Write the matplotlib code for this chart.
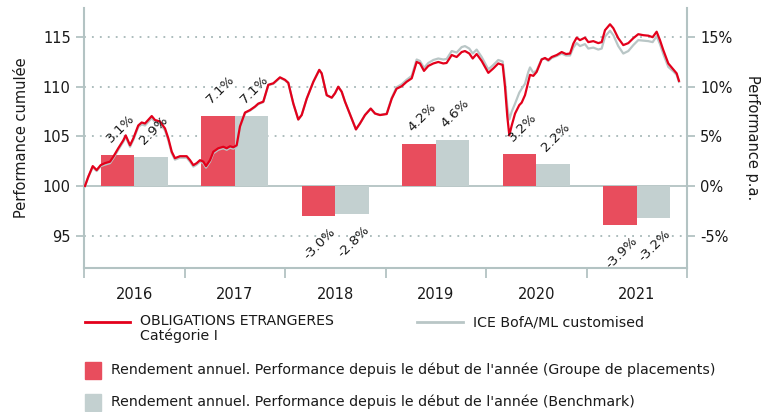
import matplotlib
matplotlib.use("Agg")
import matplotlib.pyplot as plt
from matplotlib.lines import Line2D
from matplotlib.patches import Rectangle
from matplotlib.ticker import FixedLocator, NullFormatter

plt.rcParams['font.family'] = ['DejaVu Sans']

# cumulative performance, decimal year -> index (start = 100)
dates = [2016.010, 2016.043, 2016.087, 2016.126, 2016.166, 2016.209, 2016.259, 2016.292,
         2016.341, 2016.391, 2016.415, 2016.458, 2016.491, 2016.540, 2016.574, 2016.607,
         2016.674, 2016.706, 2016.756, 2016.806, 2016.839, 2016.873, 2016.905, 2016.955,
         2017.022, 2017.055, 2017.088, 2017.121, 2017.154, 2017.187, 2017.214, 2017.254,
         2017.287, 2017.336, 2017.386, 2017.420, 2017.453, 2017.486, 2017.519, 2017.552,
         2017.602, 2017.652, 2017.701, 2017.734, 2017.784, 2017.834, 2017.884, 2017.950,
         2018.000, 2018.033, 2018.083, 2018.132, 2018.166, 2018.216, 2018.282, 2018.341,
         2018.365, 2018.415, 2018.465, 2018.498, 2018.530, 2018.564, 2018.597, 2018.630,
         2018.674, 2018.706, 2018.746, 2018.796, 2018.853, 2018.896, 2018.945, 2019.012,
         2019.062, 2019.110, 2019.161, 2019.210, 2019.261, 2019.310, 2019.343, 2019.383,
         2019.426, 2019.476, 2019.525, 2019.575, 2019.608, 2019.659, 2019.708, 2019.758,
         2019.791, 2019.834, 2019.868, 2019.907, 2019.957, 2020.023, 2020.073, 2020.122,
         2020.166, 2020.189, 2020.212, 2020.232, 2020.256, 2020.289, 2020.331, 2020.355,
         2020.388, 2020.421, 2020.438, 2020.471, 2020.504, 2020.554, 2020.587, 2020.620,
         2020.654, 2020.704, 2020.753, 2020.796, 2020.836, 2020.869, 2020.902, 2020.935,
         2020.985, 2021.018, 2021.068, 2021.117, 2021.151, 2021.184, 2021.234, 2021.267,
         2021.316, 2021.366, 2021.416, 2021.466, 2021.515, 2021.565, 2021.615, 2021.658,
         2021.698, 2021.731, 2021.764, 2021.814, 2021.864, 2021.897, 2021.920]

fund = [100.0, 100.94, 102.0, 101.6, 102.1, 102.3, 102.45, 102.95,
        103.8, 104.6, 105.1, 104.1, 104.8, 106.1, 106.4, 106.3,
        107.05, 106.65, 106.5, 105.8, 104.8, 103.45, 102.8, 103.0,
        103.0, 102.6, 102.1, 102.3, 102.6, 102.45, 102.0, 102.6,
        103.45, 103.8, 103.95, 103.8, 104.0, 103.9, 104.1, 106.0,
        107.4, 107.65, 108.0, 108.3, 108.5, 110.2, 110.35, 110.95,
        110.7, 110.4, 108.3, 106.7, 107.15, 108.8, 110.5, 111.7,
        111.35, 109.15, 108.9, 109.35, 110.0, 109.5, 108.5, 107.65,
        106.5, 105.7, 106.3, 107.15, 107.8, 107.3, 107.15, 107.25,
        108.8, 109.8, 110.05, 110.5, 110.85, 112.5, 112.35, 111.6,
        112.1, 112.35, 112.5, 112.35, 112.4, 113.2, 113.0, 113.5,
        113.6, 113.35, 112.85, 113.3, 112.6, 111.4, 111.85, 112.35,
        112.2, 110.0, 107.0, 105.1, 106.1, 107.3, 108.15, 108.4,
        109.15, 110.5, 111.2, 111.1, 111.5, 112.75, 112.9, 112.7,
        113.0, 113.2, 113.5, 113.3, 113.35, 114.35, 114.95, 114.7,
        114.95, 114.5, 114.6, 114.4, 114.5, 115.7, 116.3, 115.9,
        114.9, 114.2, 114.4, 114.9, 115.3, 115.2, 115.15, 115.0,
        115.55, 114.7, 113.7, 112.35, 111.75, 111.35, 110.6]

bench = [100.0, 100.9, 101.9, 101.5, 102.0, 102.15, 102.3, 102.8,
         103.65, 104.45, 104.95, 103.95, 104.65, 105.95, 106.2, 106.1,
         106.85, 106.45, 106.3, 105.6, 104.6, 103.3, 102.65, 102.85,
         102.85, 102.45, 101.95, 102.15, 102.45, 102.3, 101.85, 102.45,
         103.3, 103.65, 103.8, 103.65, 103.85, 103.75, 103.95, 105.9,
         107.35, 107.6, 107.95, 108.25, 108.45, 110.15, 110.3, 110.9,
         110.65, 110.35, 108.3, 106.7, 107.15, 108.8, 110.5, 111.7,
         111.35, 109.15, 108.9, 109.35, 110.0, 109.5, 108.5, 107.65,
         106.5, 105.7, 106.3, 107.15, 107.8, 107.3, 107.15, 107.3,
         108.9, 109.95, 110.25, 110.7, 111.1, 112.75, 112.6, 111.9,
         112.4, 112.7, 112.85, 112.75, 112.8, 113.6, 113.45, 114.0,
         114.1, 113.85, 113.35, 113.75, 113.0, 111.75, 112.2, 112.7,
         112.55, 110.6, 108.0, 106.7, 107.5, 108.3, 109.4, 109.8,
         110.3, 111.5, 111.95, 111.4, 111.65, 112.8, 112.85, 112.6,
         112.9, 113.1, 113.35, 113.15, 113.15, 113.95, 114.4, 114.1,
         114.3, 113.85, 113.95, 113.75, 113.85, 115.05, 115.65, 115.2,
         114.1, 113.35, 113.6, 114.2, 114.7, 114.65, 114.6, 114.5,
         115.1, 114.3, 113.3, 112.0, 111.55, 111.2, 110.5]

years = [2016, 2017, 2018, 2019, 2020, 2021]
fund_ytd = [3.1, 7.1, -3.0, 4.2, 3.2, -3.9]
bench_ytd = [2.9, 7.1, -2.8, 4.6, 2.2, -3.2]

fund_name = "OBLIGATIONS ETRANGERES\nCatégorie I"
bench_name = "ICE BofA/ML customised"
fund_bar_name = "Rendement annuel. Performance depuis le début de l'année (Groupe de placements)"
bench_bar_name = "Rendement annuel. Performance depuis le début de l'année (Benchmark)"

RED = '#e3001b'
RED_BAR = '#e84d5d'
GREY = '#b9c6c6'
GREY_BAR = '#c3d0d0'
AXIS = '#b3c3c3'
TXT = '#1a1a1a'

W, H = 776, 412
fig = plt.figure(figsize=(W / 100, H / 100), dpi=100)
ax = fig.add_axes([84 / W, 1 - 268 / H, (687 - 84) / W, (268 - 8) / H])

ax.set_xlim(2016, 2022)
ax.set_ylim(91.73, 117.94)

for y in [95, 105, 110, 115]:
    ax.axhline(y, color='#a6b7b7', lw=1.3, ls=(0, (1, 3.4)), zorder=0)
ax.axhline(100, color=AXIS, lw=1.3, zorder=1)

bw = 0.335
xr = [y + 0.5 - bw / 2 for y in years]
xg = [y + 0.5 + bw / 2 for y in years]
ax.bar(xr, fund_ytd, width=bw, bottom=100, color=RED_BAR, zorder=1.5)
ax.bar(xg, bench_ytd, width=bw, bottom=100, color=GREY_BAR, zorder=1.5)

ax.plot(dates, bench, color=GREY, lw=1.6, zorder=2.5)
ax.plot(dates, fund, color=RED, lw=1.6, zorder=3)

for xs, vals in [(xr, fund_ytd), (xg, bench_ytd)]:
    for x, v in zip(xs, vals):
        if v >= 0:
            ax.annotate(f"{v:.1f}%", (x, 100 + v), xytext=(2, 7), textcoords='offset points',
                        rotation=45, ha='center', va='bottom', fontsize=9.7, color=TXT, zorder=4)
        else:
            ax.annotate(f"{v:.1f}%", (x, 100 + v), xytext=(1, -7), textcoords='offset points',
                        rotation=45, ha='center', va='top', fontsize=9.7, color=TXT, zorder=4)

for s in ['top', 'right']:
    ax.spines[s].set_visible(False)
for s in ['left', 'bottom']:
    ax.spines[s].set_color(AXIS)
    ax.spines[s].set_linewidth(1.5)

ax.set_yticks([95, 100, 105, 110, 115])
ax.tick_params(axis='y', colors=AXIS, labelcolor=TXT, labelsize=10.5, length=6, width=1.3)
ax.xaxis.set_major_locator(FixedLocator(range(2016, 2023)))
ax.xaxis.set_major_formatter(NullFormatter())
ax.xaxis.set_minor_locator(FixedLocator([y + 0.5 for y in years]))
ax.set_xticklabels([str(y) for y in years], minor=True)
ax.tick_params(axis='x', which='major', colors=AXIS, length=7, width=1.3)
ax.tick_params(axis='x', which='minor', length=0, pad=14, labelsize=10.5, labelcolor=TXT)
ax.set_ylabel("Performance cumulée", fontsize=10.5, color=TXT, labelpad=10)

ax2 = ax.twinx()
ax2.set_ylim(91.73 - 100, 117.94 - 100)
ax2.set_yticks([-5, 0, 5, 10, 15])
ax2.set_yticklabels([f"{t}%" for t in [-5, 0, 5, 10, 15]])
for s in ['top', 'left', 'bottom']:
    ax2.spines[s].set_visible(False)
ax2.spines['right'].set_color(AXIS)
ax2.spines['right'].set_linewidth(1.5)
ax2.tick_params(axis='y', colors=AXIS, labelcolor=TXT, labelsize=10.5, length=6, width=1.3)
ax2.set_ylabel("Performance p.a.", fontsize=10.5, color=TXT, rotation=-90, labelpad=20)


def fx(px):
    return px / W


def fy(py):
    return 1 - py / H


# legend
fig.add_artist(Line2D([fx(85), fx(130)], [fy(322), fy(322)], color=RED, lw=2))
fig.text(fx(140), fy(314), fund_name, fontsize=10.2, color=TXT, va='top', linespacing=1.05)
fig.add_artist(Line2D([fx(417), fx(463)], [fy(322), fy(322)], color=GREY, lw=2))
fig.text(fx(473), fy(322), bench_name, fontsize=10.2, color=TXT, va='center')
fig.add_artist(Rectangle((fx(85), fy(379)), fx(16), 17 / H, color=RED_BAR, transform=fig.transFigure))
fig.text(fx(111), fy(370), fund_bar_name, fontsize=10.2, color=TXT, va='center')
fig.add_artist(Rectangle((fx(85), fy(411)), fx(16), 17 / H, color=GREY_BAR, transform=fig.transFigure))
fig.text(fx(111), fy(402), bench_bar_name, fontsize=10.2, color=TXT, va='center')

fig.savefig("out.png", dpi=100)
